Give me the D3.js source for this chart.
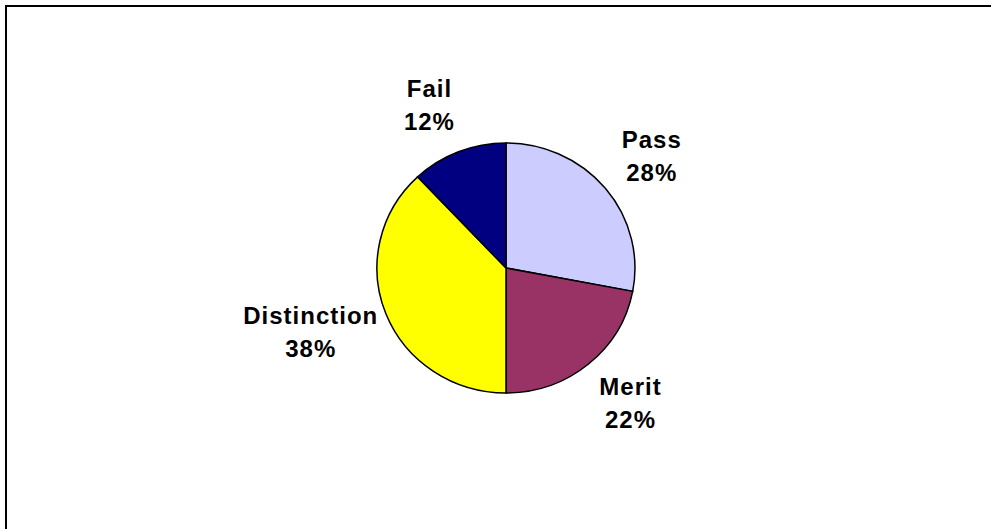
<!DOCTYPE html>
<html>
<head>
<meta charset="utf-8">
<script src="https://cdn.jsdelivr.net/npm/d3@7"></script>
<style>
  html, body { margin: 0; padding: 0; background: #fff; overflow: hidden; }
  text { font-family: "Liberation Sans", Arial, sans-serif; font-weight: bold; }
</style>
</head>
<body>
<div id="main"></div>
<script>
// data
var categories = ["Pass", "Merit", "Distinction", "Fail"];
var values = [28, 22, 38, 12];
var colors = ["#CCCCFF", "#993366", "#FFFF00", "#000080"];

var width = 991,
    height = 529;

var cx = 506, cy = 268,
    rx = 129, ry = 125; // excel pie is a touch wider than tall

var svg = d3.select("#main")
  .append("svg")
  .attr("width", width)
  .attr("height", height);

// chart area frame (only top & left show, the rest is cut off)
svg.append("rect")
  .attr("x", 6)
  .attr("y", 6)
  .attr("width", width + 20)
  .attr("height", height + 20)
  .attr("fill", "#fff")
  .attr("stroke", "#000")
  .attr("stroke-width", 2);

var data = categories.map(function(c, i){ return {name: c, value: values[i], color: colors[i]}; });
var total = d3.sum(values);

var pie = d3.pie()
  .sort(null)
  .value(function(d){ return d.value; });

var arc = d3.arc()
  .innerRadius(0)
  .outerRadius(1);

var arcs = pie(data);

var g = svg.append("g")
  .attr("transform", "translate(" + cx + "," + cy + ") scale(" + rx + "," + ry + ")");

g.selectAll("path")
  .data(arcs)
.enter().append("path")
  .attr("d", arc)
  .attr("fill", function(d){ return d.data.color; })
  .attr("stroke", "#000")
  .attr("stroke-width", 1.5)
  .attr("vector-effect", "non-scaling-stroke");

// labels sit just outside the pie, pushed out by part of their box
var labelRx = 165,
    labelRy = 145,
    lineH = 33,
    fontSize = 24;

var labels = svg.append("g").selectAll("text")
  .data(arcs)
.enter().append("text")
  .attr("text-anchor", "middle")
  .style("font-size", fontSize + "px")
  .style("letter-spacing", "1px")
  .attr("fill", "#000");

labels.append("tspan")
  .attr("x", 0)
  .attr("dy", 0)
  .text(function(d){ return d.data.name; });

labels.append("tspan")
  .attr("x", 0)
  .attr("dy", lineH)
  .text(function(d){ return Math.round(d.data.value / total * 100) + "%"; });

labels.each(function(d){
  var bb = this.getBBox();
  var a = (d.startAngle + d.endAngle) / 2;
  var s = Math.sin(a), c = -Math.cos(a);
  var hw = bb.width / 2, hh = bb.height / 2;
  var mx = cx + s * labelRx + (s < 0 ? -1 : 1) * 0.62 * hw,
      my = cy + c * (labelRy + hh);
  // bbox is relative to first baseline; centre the block on (mx,my)
  var by = my - (bb.y + hh);
  d3.select(this).attr("transform", "translate(" + mx + "," + by + ")");
});
</script>
</body>
</html>
